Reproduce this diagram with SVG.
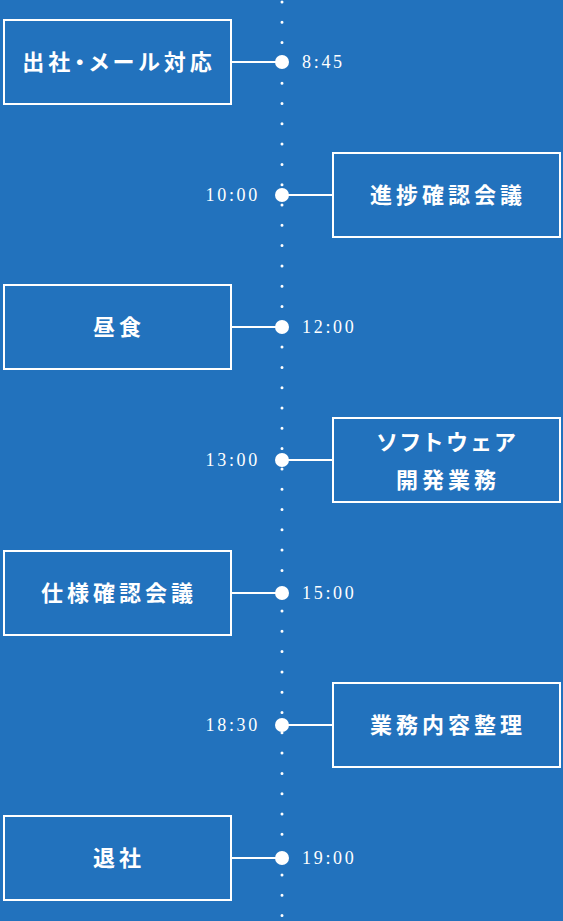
<svg xmlns="http://www.w3.org/2000/svg" width="563" height="921" viewBox="0 0 563 921">
<style>
.box rect{fill:none;stroke:#fff;stroke-width:2}
.box text{fill:#fff;font-family:"Noto Sans CJK JP","Noto Sans",sans-serif;font-weight:bold;font-size:22px;text-anchor:middle;letter-spacing:4px;font-feature-settings:"palt"}
.time{fill:#fff;font-family:"Liberation Serif","DejaVu Serif",serif;font-size:18px;letter-spacing:2.7px}
.conn line{stroke:#fff;stroke-width:2}
.conn circle{fill:#fff}
</style>
<rect width="563" height="921" fill="#2272bd"/>
<line x1="282" y1="2" x2="282" y2="921" stroke="#fff" stroke-width="3" stroke-linecap="round" stroke-dasharray="0 20.3"/>
<g class="conn">
<line x1="231" y1="62" x2="282" y2="62"/><circle cx="282" cy="62" r="7"/>
<line x1="282" y1="195" x2="333" y2="195"/><circle cx="282" cy="195" r="7"/>
<line x1="231" y1="327" x2="282" y2="327"/><circle cx="282" cy="327" r="7"/>
<line x1="282" y1="460" x2="333" y2="460"/><circle cx="282" cy="460" r="7"/>
<line x1="231" y1="593" x2="282" y2="593"/><circle cx="282" cy="593" r="7"/>
<line x1="282" y1="725" x2="333" y2="725"/><circle cx="282" cy="725" r="7"/>
<line x1="231" y1="858" x2="282" y2="858"/><circle cx="282" cy="858" r="7"/>
</g>
<g id="n1" class="box"><rect x="4" y="20" width="227" height="84"/><text x="119" y="70">出社・メール対応</text></g>
<text class="time" x="302" y="68">8:45</text>
<g id="n2" class="box"><rect x="333" y="153" width="227" height="84"/><text x="448" y="203">進捗確認会議</text></g>
<text class="time" x="260" y="201" text-anchor="end">10:00</text>
<g id="n3" class="box"><rect x="4" y="285" width="227" height="84"/><text x="119" y="335">昼食</text></g>
<text class="time" x="302" y="333">12:00</text>
<g id="n4" class="box"><rect x="333" y="418" width="227" height="84"/><text x="448" y="450">ソフトウェア</text><text x="448" y="488">開発業務</text></g>
<text class="time" x="260" y="466" text-anchor="end">13:00</text>
<g id="n5" class="box"><rect x="4" y="551" width="227" height="84"/><text x="119" y="601">仕様確認会議</text></g>
<text class="time" x="302" y="599">15:00</text>
<g id="n6" class="box"><rect x="333" y="683" width="227" height="84"/><text x="448" y="733">業務内容整理</text></g>
<text class="time" x="260" y="731" text-anchor="end">18:30</text>
<g id="n7" class="box"><rect x="4" y="816" width="227" height="84"/><text x="119" y="866">退社</text></g>
<text class="time" x="302" y="864">19:00</text>
</svg>
